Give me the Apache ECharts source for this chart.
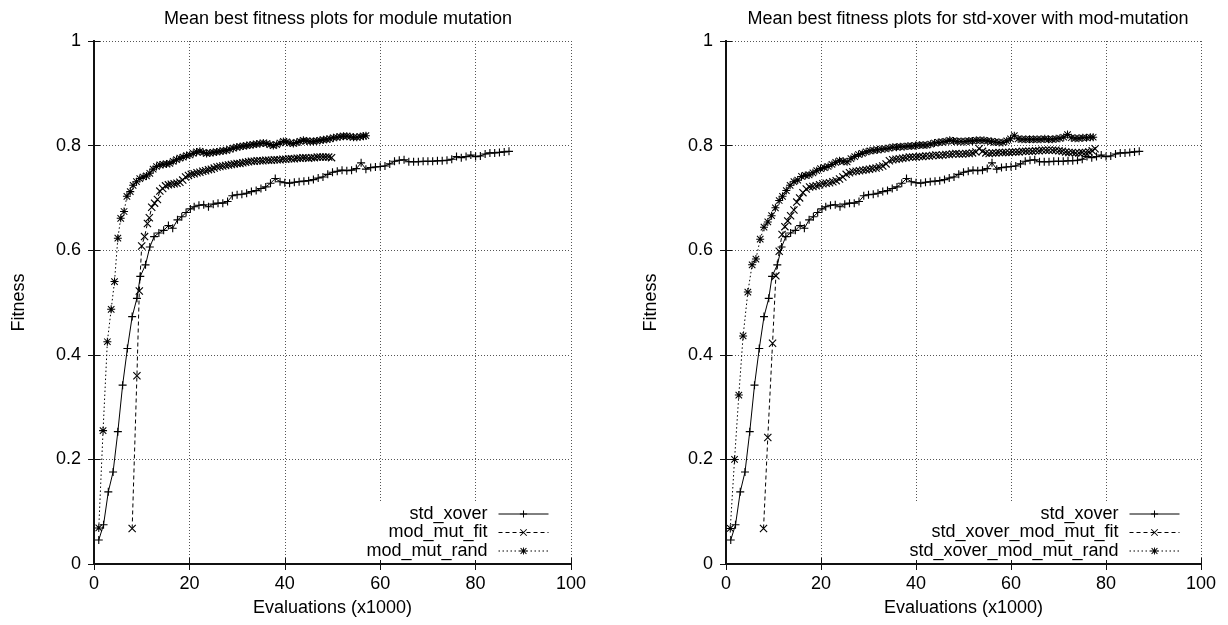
<!DOCTYPE html>
<html><head><meta charset="utf-8">
<script src="https://cdn.jsdelivr.net/npm/echarts@6/dist/echarts.min.js"></script>
<style>html,body{margin:0;padding:0;background:#fff}#c{width:1228px;height:625px}</style>
</head><body><div id="c"></div>
<script>
const titles = ['Mean best fitness plots for module mutation', 'Mean best fitness plots for std-xover with mod-mutation'];
const xTicks = [0, 20, 40, 60, 80, 100];
const yTicks = [0, 0.2, 0.4, 0.6, 0.8, 1];
const namesLeft = ['std_xover', 'mod_mut_fit', 'mod_mut_rand'];
const namesRight = ['std_xover', 'std_xover_mod_mut_fit', 'std_xover_mod_mut_rand'];

// std_xover (same in both panels): [evaluations x1000, fitness]
const stdXover = [[1,0.046],[2,0.075],[3,0.138],[4,0.176],[5,0.253],[6,0.342],[7,0.412],[8,0.473],[9,0.508],[9.7,0.550],[10.8,0.572],[11.7,0.606],[12.6,0.626],[13.6,0.633],[14.6,0.638],[15.6,0.647],[16.5,0.642],[17.5,0.658],[18.4,0.664],[19.3,0.672],[20.2,0.679],[21,0.683],[22,0.686],[23,0.687],[24,0.683],[25,0.688],[26,0.690],[27,0.690],[28,0.693],[29,0.704],[30,0.706],[31,0.707],[32,0.709],[33,0.712],[34,0.714],[35,0.718],[36,0.721],[37,0.728],[38,0.737],[39,0.731],[40,0.729],[41,0.728],[42,0.730],[43,0.731],[44,0.732],[45,0.733],[46,0.735],[47,0.738],[48,0.740],[49,0.745],[50,0.749],[51,0.751],[52,0.753],[53,0.752],[54,0.753],[55,0.756],[56,0.767],[57,0.755],[58,0.758],[59,0.759],[60,0.760],[61,0.761],[62,0.765],[63,0.770],[64,0.772],[65,0.773],[66,0.769],[67,0.769],[68,0.769],[69,0.770],[70,0.770],[71,0.770],[72,0.771],[73,0.771],[74,0.772],[75,0.774],[76,0.779],[77,0.777],[78,0.779],[79,0.782],[80,0.779],[81,0.780],[82,0.784],[83,0.786],[84,0.786],[85,0.787],[86,0.788],[87,0.789]];

const modMutFit = [[8.0,0.068],[9.0,0.360],[9.5,0.522],[10.0,0.608],[10.6,0.626],[11.2,0.651],[11.6,0.662],[12.1,0.682],[12.7,0.690],[13.3,0.697],[13.8,0.713],[14.4,0.718],[15.0,0.723],[15.6,0.725],[16.2,0.726],[16.8,0.727],[17.4,0.728],[18.0,0.730],[18.6,0.734],[19.2,0.740],[19.8,0.743],[20.4,0.745],[21.0,0.746],[21.6,0.748],[22.2,0.749],[22.8,0.751],[23.4,0.752],[24.0,0.754],[24.6,0.755],[25.2,0.757],[25.8,0.759],[26.4,0.760],[27.0,0.761],[27.6,0.762],[28.2,0.763],[28.8,0.764],[29.4,0.765],[30.0,0.766],[30.6,0.766],[31.2,0.767],[31.8,0.768],[32.4,0.769],[33.0,0.770],[33.6,0.770],[34.2,0.771],[34.8,0.771],[35.4,0.771],[36.0,0.772],[36.6,0.772],[37.2,0.772],[37.8,0.773],[38.4,0.773],[39.0,0.773],[39.6,0.774],[40.2,0.774],[40.8,0.775],[41.4,0.775],[42.0,0.775],[42.6,0.776],[43.2,0.776],[43.8,0.777],[44.4,0.777],[45.0,0.776],[45.6,0.777],[46.2,0.777],[46.8,0.778],[47.4,0.778],[48.0,0.778],[48.6,0.778],[49.2,0.778],[49.8,0.777]];

const modMutRand = [[1.0,0.069],[1.9,0.255],[2.8,0.425],[3.6,0.487],[4.3,0.540],[5.0,0.623],[5.6,0.661],[6.3,0.674],[6.9,0.703],[7.6,0.712],[8.2,0.724],[8.9,0.731],[9.6,0.737],[10.3,0.740],[11.0,0.742],[11.7,0.747],[12.4,0.755],[13.1,0.760],[13.8,0.763],[14.5,0.764],[15.2,0.765],[15.9,0.766],[16.6,0.770],[17.3,0.773],[18.0,0.776],[18.7,0.778],[19.4,0.781],[20.1,0.782],[20.8,0.785],[21.5,0.788],[22.2,0.789],[22.9,0.787],[23.6,0.785],[24.3,0.786],[25.0,0.787],[25.7,0.788],[26.4,0.789],[27.1,0.790],[27.8,0.791],[28.5,0.793],[29.2,0.795],[29.9,0.797],[30.6,0.798],[31.3,0.799],[32.0,0.800],[32.7,0.801],[33.4,0.802],[34.1,0.803],[34.8,0.804],[35.5,0.805],[36.2,0.804],[36.9,0.802],[37.6,0.800],[38.3,0.802],[39.0,0.805],[39.7,0.808],[40.4,0.807],[41.1,0.805],[41.8,0.804],[42.5,0.806],[43.2,0.808],[43.9,0.810],[44.6,0.809],[45.3,0.808],[46.0,0.808],[46.7,0.809],[47.4,0.810],[48.1,0.811],[48.8,0.812],[49.5,0.813],[50.2,0.815],[50.9,0.816],[51.6,0.817],[52.3,0.818],[53.0,0.818],[53.7,0.817],[54.4,0.816],[55.1,0.816],[55.8,0.817],[56.5,0.818],[57.0,0.819]];

const xoverModMutFit = [[7.9,0.068],[8.8,0.242],[9.8,0.422],[10.5,0.551],[11.2,0.598],[11.8,0.630],[12.4,0.645],[13.0,0.656],[13.6,0.666],[14.3,0.677],[14.9,0.692],[15.5,0.700],[16.2,0.710],[16.9,0.717],[17.6,0.721],[18.3,0.722],[19.0,0.723],[19.7,0.725],[20.4,0.727],[21.1,0.728],[21.8,0.729],[22.5,0.731],[23.2,0.733],[23.9,0.736],[24.6,0.740],[25.3,0.745],[26.0,0.748],[26.7,0.750],[27.4,0.751],[28.1,0.752],[28.8,0.753],[29.5,0.754],[30.2,0.755],[30.9,0.756],[31.6,0.757],[32.3,0.759],[33.0,0.761],[33.7,0.765],[34.4,0.771],[35.1,0.773],[35.8,0.774],[36.5,0.775],[37.2,0.776],[37.9,0.777],[38.6,0.778],[39.3,0.778],[40.0,0.778],[40.7,0.779],[41.4,0.779],[42.1,0.780],[42.8,0.780],[43.5,0.781],[44.2,0.782],[44.9,0.781],[45.6,0.782],[46.3,0.783],[47.0,0.783],[47.7,0.784],[48.4,0.785],[49.1,0.784],[49.8,0.784],[50.5,0.785],[51.2,0.785],[51.9,0.786],[52.6,0.788],[53.3,0.794],[54.0,0.789],[54.7,0.786],[55.4,0.785],[56.1,0.786],[56.8,0.786],[57.5,0.787],[58.2,0.787],[58.9,0.787],[59.6,0.787],[60.3,0.788],[61.0,0.788],[61.7,0.788],[62.4,0.789],[63.1,0.789],[63.8,0.789],[64.5,0.789],[65.2,0.790],[65.9,0.790],[66.6,0.791],[67.3,0.791],[68.0,0.791],[68.7,0.791],[69.4,0.791],[70.1,0.790],[70.8,0.789],[71.5,0.788],[72.2,0.787],[72.9,0.787],[73.6,0.786],[74.3,0.786],[75.0,0.787],[75.7,0.787],[76.4,0.788],[77.1,0.790],[77.7,0.794]];

const xoverModMutRand = [[0.9,0.068],[1.8,0.200],[2.7,0.323],[3.6,0.436],[4.6,0.520],[5.5,0.572],[6.3,0.583],[7.2,0.621],[8.0,0.644],[8.8,0.654],[9.6,0.666],[10.4,0.681],[11.2,0.695],[11.9,0.703],[12.7,0.714],[13.5,0.724],[14.3,0.731],[15.1,0.734],[15.9,0.741],[16.7,0.743],[17.5,0.744],[18.3,0.748],[19.1,0.752],[19.9,0.756],[20.7,0.758],[21.5,0.760],[22.3,0.764],[23.1,0.768],[23.9,0.771],[24.7,0.770],[25.5,0.769],[26.3,0.775],[27.1,0.779],[27.9,0.783],[28.7,0.785],[29.5,0.788],[30.3,0.790],[31.1,0.791],[31.9,0.792],[32.7,0.793],[33.5,0.794],[34.3,0.795],[35.1,0.797],[35.9,0.797],[36.7,0.798],[37.5,0.798],[38.3,0.799],[39.1,0.799],[39.9,0.800],[40.7,0.801],[41.5,0.801],[42.3,0.801],[43.1,0.803],[43.9,0.805],[44.7,0.806],[45.5,0.807],[46.3,0.808],[47.1,0.810],[47.9,0.809],[48.7,0.808],[49.5,0.808],[50.3,0.808],[51.1,0.809],[51.9,0.809],[52.7,0.810],[53.5,0.810],[54.3,0.810],[55.1,0.809],[55.9,0.808],[56.7,0.807],[57.5,0.806],[58.3,0.806],[59.1,0.809],[59.9,0.813],[60.7,0.819],[61.5,0.813],[62.3,0.812],[63.1,0.812],[63.9,0.812],[64.7,0.812],[65.5,0.812],[66.3,0.812],[67.1,0.813],[67.9,0.812],[68.7,0.812],[69.5,0.813],[70.3,0.814],[71.1,0.816],[71.9,0.821],[72.7,0.815],[73.5,0.814],[74.3,0.814],[75.1,0.815],[75.9,0.815],[76.7,0.816],[77.3,0.816]];

const FONT = 'Liberation Sans, Arial, Helvetica, sans-serif';
const SYM_PLUS = 'path://M0,4.3H10V5.7H0Z M4.3,0H5.7V10H4.3Z';
const SYM_CROSS = 'path://M0,1L1,0L10,9L9,10Z M9,0L10,1L1,10L0,9Z';
const SYM_STAR = 'path://M0,4.35H10V5.65H0Z M4.35,0H5.65V10H4.35Z M0.5,1.4L1.4,0.5L9.5,8.6L8.6,9.5Z M8.6,0.5L9.5,1.4L1.4,9.5L0.5,8.6Z';

const chart = echarts.init(document.getElementById('c'), null, {renderer: 'canvas'});

const grids = [
  {left: 94, right: 657, top: 41, bottom: 61},
  {left: 726, right: 27, top: 41, bottom: 61}
];

const xAxes = [], yAxes = [];
const frame = {show: true, lineStyle: {color: '#111', width: 2}};
const tick = {show: true, inside: true, length: 6, lineStyle: {color: '#111', width: 1}};
const grid = {show: true, lineStyle: {color: '#555', type: [1, 2], width: 1}};
for (let g = 0; g < 2; g++) {
  xAxes.push({
    type: 'value', gridIndex: g, position: 'bottom', min: xTicks[0], max: xTicks[xTicks.length - 1], interval: xTicks[1] - xTicks[0],
    axisLine: frame, axisTick: tick, splitLine: grid,
    axisLabel: {color: '#000', fontSize: 18, fontFamily: FONT, margin: 11},
    name: 'Evaluations (x1000)', nameLocation: 'middle', nameGap: 35,
    nameTextStyle: {color: '#000', fontSize: 18, fontFamily: FONT}
  });
  xAxes.push({
    type: 'value', gridIndex: g, position: 'top', min: xTicks[0], max: xTicks[xTicks.length - 1], interval: xTicks[1] - xTicks[0],
    axisLine: frame, axisTick: tick, splitLine: {show: false}, axisLabel: {show: false}
  });
  yAxes.push({
    type: 'value', gridIndex: g, position: 'left', min: yTicks[0], max: yTicks[yTicks.length - 1], interval: 0.2,
    axisLine: frame, axisTick: tick, splitLine: grid,
    axisLabel: {color: '#000', fontSize: 18, fontFamily: FONT, margin: 13},
    name: 'Fitness', nameLocation: 'middle', nameGap: 66, nameRotate: 90,
    nameTextStyle: {color: '#000', fontSize: 18, fontFamily: FONT}
  });
  yAxes.push({
    type: 'value', gridIndex: g, position: 'right', min: yTicks[0], max: yTicks[yTicks.length - 1], interval: 0.2,
    axisLine: frame, axisTick: tick, splitLine: {show: false}, axisLabel: {show: false}
  });
}

function mkSeries(name, data, g, sym, dash) {
  return {
    type: 'line', name: name, data: data,
    xAxisIndex: g * 2, yAxisIndex: g * 2,
    symbol: sym, symbolSize: 8, showSymbol: true,
    lineStyle: {color: '#000', width: 1, type: dash},
    itemStyle: {color: '#000'},
    emphasis: {disabled: true},
    animation: false, z: 3
  };
}

const series = [
  mkSeries(namesLeft[0], stdXover, 0, SYM_PLUS, 'solid'),
  mkSeries(namesLeft[1], modMutFit, 0, SYM_CROSS, [4, 3]),
  mkSeries(namesLeft[2], modMutRand, 0, SYM_STAR, [1.5, 2.5]),
  mkSeries(namesRight[0] + ' ', stdXover, 1, SYM_PLUS, 'solid'),
  mkSeries(namesRight[1], xoverModMutFit, 1, SYM_CROSS, [4, 3]),
  mkSeries(namesRight[2], xoverModMutRand, 1, SYM_STAR, [1.5, 2.5])
];

function mkLegend(data, right) {
  return {
    data: data, orient: 'vertical', right: right, top: 503, align: 'right',
    itemWidth: 50, itemHeight: 9, itemGap: 0.5,
    backgroundColor: '#fff', padding: [2, 4, 0, 8],
    selectedMode: false,
    lineStyle: {width: 1},
    textStyle: {color: '#000', fontSize: 18, fontFamily: FONT, lineHeight: 18, padding: [0, 6, 0, 0]},
    formatter: function (n) { return n.trim(); }
  };
}

chart.setOption({
  backgroundColor: '#fff',
  animation: false,
  title: [
    {text: titles[0], left: 333, top: 5, textAlign: 'center', textStyle: {color: '#000', fontSize: 18, fontWeight: 'normal', fontFamily: FONT}},
    {text: titles[1], left: 963, top: 5, textAlign: 'center', textStyle: {color: '#000', fontSize: 18, fontWeight: 'normal', fontFamily: FONT}}
  ],
  grid: grids,
  xAxis: xAxes,
  yAxis: yAxes,
  legend: [
    mkLegend(namesLeft, 675),
    mkLegend(namesRight.map((n, i) => i === 0 ? n + ' ' : n), 44)
  ],
  series: series
});
</script>
</body></html>
